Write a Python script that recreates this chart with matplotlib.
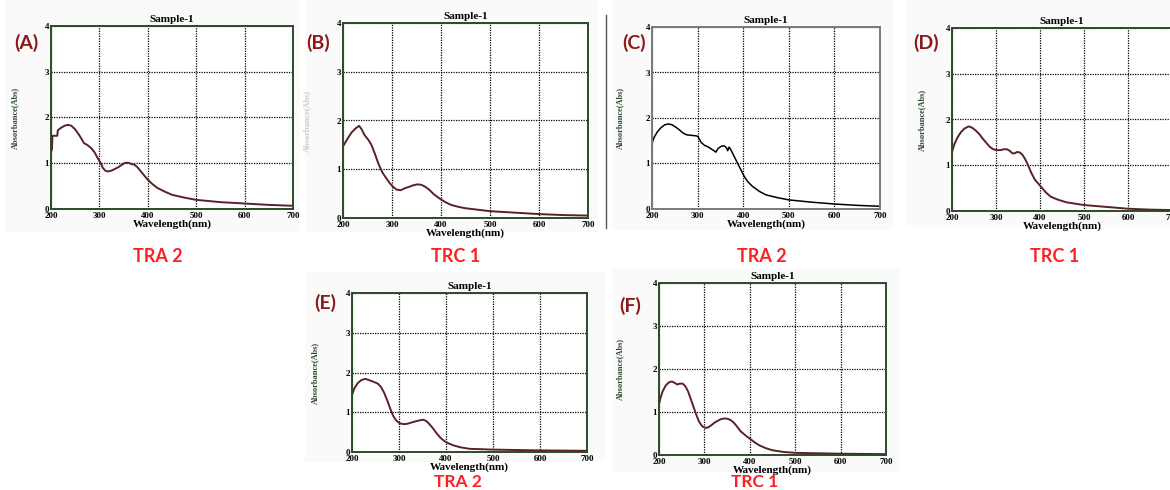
import matplotlib
matplotlib.use("Agg")
import matplotlib.pyplot as plt
from matplotlib.lines import Line2D
from matplotlib.patches import Rectangle

W, H = 1170, 490

# 各面板的数据 (波长 nm, 吸光度 Abs) -- 估计值
wl_a = [200, 202, 203, 213, 214, 220, 228, 235, 242, 250, 258, 265, 268, 275, 283, 290, 297, 303, 307, 312, 318, 325, 333, 340, 347, 353, 360, 367, 372, 378, 385, 392, 400, 410, 420, 435, 450, 475, 500, 550, 600, 650, 700]
abs_a = [1.26, 1.30, 1.60, 1.60, 1.72, 1.77, 1.82, 1.84, 1.82, 1.74, 1.62, 1.50, 1.44, 1.40, 1.33, 1.24, 1.10, 1.00, 0.90, 0.84, 0.82, 0.84, 0.88, 0.92, 0.97, 1.01, 1.01, 0.98, 0.97, 0.92, 0.83, 0.74, 0.64, 0.54, 0.46, 0.38, 0.31, 0.25, 0.20, 0.15, 0.12, 0.09, 0.07]

wl_b = [200, 203, 210, 218, 226, 233, 238, 244, 252, 258, 265, 272, 280, 288, 295, 302, 310, 318, 326, 335, 343, 352, 360, 368, 376, 385, 393, 400, 410, 420, 435, 450, 475, 500, 550, 600, 650, 700]
abs_b = [1.47, 1.52, 1.64, 1.76, 1.84, 1.89, 1.82, 1.70, 1.60, 1.50, 1.32, 1.12, 0.94, 0.82, 0.72, 0.64, 0.58, 0.57, 0.61, 0.64, 0.67, 0.69, 0.68, 0.64, 0.58, 0.49, 0.43, 0.38, 0.32, 0.27, 0.23, 0.20, 0.17, 0.14, 0.11, 0.08, 0.06, 0.05]

wl_c = [200, 205, 212, 220, 228, 236, 244, 252, 260, 268, 276, 285, 295, 300, 303, 308, 315, 322, 330, 336, 340, 345, 352, 358, 363, 366, 369, 372, 376, 382, 390, 396, 402, 410, 420, 435, 450, 475, 500, 550, 600, 650, 700]
abs_c = [1.45, 1.58, 1.70, 1.79, 1.85, 1.87, 1.85, 1.80, 1.74, 1.67, 1.63, 1.62, 1.61, 1.60, 1.55, 1.46, 1.40, 1.37, 1.32, 1.28, 1.25, 1.33, 1.38, 1.39, 1.35, 1.28, 1.36, 1.32, 1.24, 1.12, 0.96, 0.84, 0.72, 0.60, 0.50, 0.39, 0.31, 0.25, 0.20, 0.15, 0.11, 0.08, 0.06]

wl_d = [200, 205, 212, 220, 228, 238, 246, 255, 263, 270, 278, 285, 292, 300, 310, 318, 325, 332, 337, 342, 348, 354, 360, 366, 372, 380, 388, 396, 405, 415, 425, 440, 460, 500, 550, 600, 650, 700]
abs_d = [1.29, 1.45, 1.60, 1.72, 1.80, 1.85, 1.82, 1.75, 1.67, 1.58, 1.49, 1.41, 1.36, 1.33, 1.33, 1.35, 1.35, 1.31, 1.26, 1.26, 1.29, 1.28, 1.23, 1.14, 1.02, 0.84, 0.69, 0.60, 0.50, 0.39, 0.31, 0.25, 0.19, 0.13, 0.09, 0.05, 0.03, 0.02]

wl_e = [200, 205, 212, 220, 228, 236, 245, 255, 262, 268, 275, 282, 288, 295, 302, 310, 318, 326, 335, 345, 352, 358, 364, 372, 380, 388, 396, 405, 415, 430, 450, 500, 600, 700]
abs_e = [1.43, 1.60, 1.73, 1.81, 1.84, 1.81, 1.77, 1.72, 1.63, 1.50, 1.30, 1.07, 0.90, 0.78, 0.72, 0.70, 0.71, 0.74, 0.77, 0.80, 0.81, 0.78, 0.71, 0.60, 0.47, 0.36, 0.28, 0.22, 0.17, 0.12, 0.08, 0.06, 0.04, 0.03]

wl_f = [200, 203, 208, 215, 222, 228, 234, 240, 246, 252, 258, 264, 270, 276, 282, 288, 295, 302, 308, 315, 322, 330, 338, 345, 352, 358, 365, 372, 380, 390, 400, 410, 420, 435, 450, 475, 500, 600, 700]
abs_f = [1.17, 1.32, 1.48, 1.62, 1.69, 1.71, 1.68, 1.64, 1.66, 1.66, 1.60, 1.48, 1.30, 1.12, 0.94, 0.78, 0.67, 0.63, 0.64, 0.69, 0.75, 0.80, 0.84, 0.85, 0.84, 0.81, 0.75, 0.66, 0.55, 0.46, 0.38, 0.30, 0.23, 0.16, 0.11, 0.07, 0.05, 0.03, 0.02]

panel_ids = ["(A)", "(B)", "(C)", "(D)", "(E)", "(F)"]
sample_names = ["TRA 2", "TRC 1", "TRA 2", "TRC 1", "TRA 2", "TRC 1"]
x_ticks = [200, 300, 400, 500, 600, 700]
y_ticks = [0, 1, 2, 3, 4]

# 像素位置: 轴框 (左, 右, 上, 下), 面板字母, 底部名称
boxes = [(51, 293, 26, 209), (343, 588, 23, 218), (652, 880, 27, 209),
         (952, 1172, 28, 211), (352, 587, 293, 452), (659, 886, 283, 455)]
letter_pos = [(26, 43), (318, 43), (634, 43), (926, 43), (325, 303), (630, 306)]
name_pos = [(158, 256), (456, 256), (762, 256), (1055, 256), (458, 482), (755, 482)]
name_size = [13, 13, 13, 13, 12.5, 12.5]
ylab_off = [36, 36, 32, 30, 37, 39]
bg_boxes = [(5, 300, 0, 232), (305, 598, 0, 232), (612, 893, 0, 230),
            (905, 1170, 0, 225), (305, 605, 272, 462), (612, 900, 268, 472)]

data = [(wl_a, abs_a), (wl_b, abs_b), (wl_c, abs_c), (wl_d, abs_d), (wl_e, abs_e), (wl_f, abs_f)]

serif = "Liberation Serif"

fig = plt.figure(figsize=(W / 100, H / 100), dpi=100)
fig.patch.set_facecolor("white")

# 每张小图外面很淡的灰底
for (l, r, t, b) in bg_boxes:
    fig.add_artist(Rectangle((l / W, 1 - b / H), (r - l) / W, (b - t) / H,
                             transform=fig.transFigure, facecolor="#fafafa",
                             edgecolor="none", zorder=0))

for i, (wl, ab) in enumerate(data):
    l, r, t, b = boxes[i]
    ax = fig.add_axes([l / W, 1 - b / H, (r - l) / W, (b - t) / H])
    ax.set_facecolor("white")
    line_col = "black" if i == 2 else "#5a2226"
    frame_col = "#7a7a7a" if i == 2 else "#2c4a2c"
    ax.plot(wl, ab, color=line_col, lw=1.4 if i != 2 else 1.1)
    ax.set_xlim(200, 700)
    ax.set_ylim(0, 4)
    ax.set_xticks(x_ticks)
    ax.set_yticks(y_ticks)
    ax.grid(True, color="black", lw=0.9, linestyle=(0, (1, 1)))
    ax.tick_params(axis="x", length=0, pad=2, labelsize=6.5)
    ax.tick_params(axis="y", length=0, pad=1.5, labelsize=6.5)
    for lab in ax.get_xticklabels() + ax.get_yticklabels():
        lab.set_fontfamily(serif)
        lab.set_fontweight("bold")
    for sp in ax.spines.values():
        sp.set_color(frame_col)
        sp.set_linewidth(1.4)
    ax.set_title("Sample-1", fontsize=8, fontweight="bold", family=serif, pad=3)
    ax.set_xlabel("Wavelength(nm)", fontsize=8, fontweight="bold", family=serif,
                  labelpad=-0.5 if i == 5 else 0)
    ylab_col = "#cccccc" if i == 1 else "#2d4a2d"
    ax.set_ylabel("Absorbance(Abs)", fontsize=6, fontweight="bold", family=serif, color=ylab_col)
    ax.yaxis.set_label_coords(-(ylab_off[i] - 4) / (r - l), 0.5)

    lx, ly = letter_pos[i]
    fig.text(lx / W, 1 - ly / H, panel_ids[i], ha="center", va="center",
             fontsize=14, fontweight="bold", color="#8b1a1a", family="Lato")
    nx, ny = name_pos[i]
    fig.text(nx / W, 1 - ny / H, sample_names[i], ha="center", va="center",
             fontsize=name_size[i], fontweight="bold", color="#ff1f1f", family="Lato")

# B 和 C 之间的竖线
fig.add_artist(Line2D([606 / W, 606 / W], [1 - 15 / H, 1 - 228 / H], color="#555555", lw=1))

fig.savefig("out.png", dpi=100)
